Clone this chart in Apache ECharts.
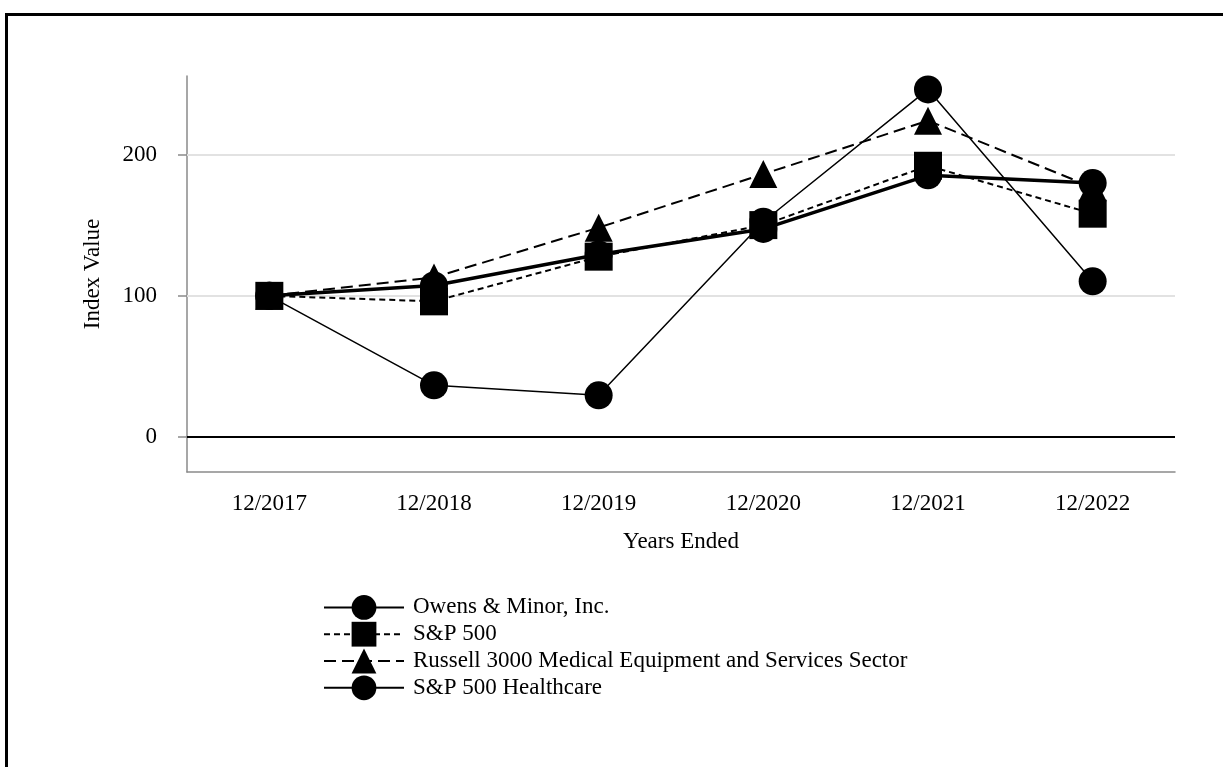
<!DOCTYPE html>
<html>
<head>
<meta charset="utf-8">
<script src="https://cdn.jsdelivr.net/npm/echarts@6/dist/echarts.min.js"></script>
<style>
  html, body { margin: 0; padding: 0; background: #fff; }
  #chart { width: 1223px; height: 767px; }
  #frame { position: absolute; left: 5px; top: 13px; width: 1300px; height: 800px;
           border-top: 3px solid #000; border-left: 3px solid #000; pointer-events: none; }
</style>
</head>
<body>
<div id="chart"></div>
<div id="frame"></div>
<script>
const categories = ['12/2017', '12/2018', '12/2019', '12/2020', '12/2021', '12/2022'];
const owensMinor = [100, 36.5, 29.4, 152.6, 246.5, 110.3];
const sp500 = [100, 96.1, 127.8, 150.2, 192.3, 158.3];
const russell3000Med = [100, 113.1, 148.4, 186.4, 224.3, 177.0];
const sp500Healthcare = [100, 107.4, 129.4, 147.5, 185.5, 180.0];
const yTickValues = [0, 100, 200];
const gridValues = [100, 200];

const FONT = 'Liberation Serif';
const FS = 23;
const chart = echarts.init(document.getElementById('chart'));

chart.setOption({
  animation: false,
  backgroundColor: '#fff',
  textStyle: { fontFamily: FONT, color: '#000' },
  grid: { left: 187, right: 48, top: 76, bottom: 295, containLabel: false },
  legend: {
    orient: 'vertical',
    left: 318,
    top: 590,
    itemWidth: 80,
    itemHeight: 31,
    itemGap: 2,
    textStyle: { fontFamily: FONT, fontSize: FS, color: '#000', padding: [0, 0, 0, 4] },
    data: ['Owens & Minor, Inc.', 'S&P 500', 'Russell 3000 Medical Equipment and Services Sector', 'S&P 500 Healthcare']
  },
  xAxis: {
    type: 'category',
    data: categories,
    boundaryGap: true,
    name: 'Years Ended',
    nameLocation: 'middle',
    nameGap: 58,
    nameTextStyle: { fontFamily: FONT, fontSize: FS, color: '#000' },
    axisLine: { onZero: false, lineStyle: { color: '#8a8a8a', width: 1.5 } },
    axisTick: { alignWithLabel: true, length: 10, lineStyle: { color: '#8a8a8a', width: 1.5 } },
    axisLabel: { fontFamily: FONT, fontSize: FS, color: '#000', margin: 20 },
    splitLine: { show: false }
  },
  yAxis: {
    type: 'value',
    min: -25,
    max: 256,
    name: 'Index Value',
    nameLocation: 'middle',
    nameGap: 83,
    nameTextStyle: { fontFamily: FONT, fontSize: FS, color: '#000' },
    axisLine: { show: true, lineStyle: { color: '#8a8a8a', width: 1.5 } },
    axisTick: { show: true, length: 9, customValues: yTickValues, lineStyle: { color: '#8a8a8a', width: 1.5 } },
    axisLabel: { fontFamily: FONT, fontSize: FS, color: '#000', margin: 30, customValues: yTickValues },
    splitLine: { show: false }
  },
  series: [
    {
      name: 'Owens & Minor, Inc.',
      type: 'line',
      data: owensMinor,
      symbol: 'circle',
      symbolSize: 28,
      itemStyle: { color: '#000' },
      lineStyle: { color: '#000', width: 1.5, type: 'solid' },
      z: 3,
      markLine: {
        silent: true,
        symbol: 'none',
        z: 1,
        label: { show: false },
        data: [
          ...gridValues.map(v => ({ yAxis: v, lineStyle: { color: '#e2e2e2', width: 2, type: 'solid' } })),
          { yAxis: 0, lineStyle: { color: '#000', width: 2, type: 'solid' } }
        ]
      }
    },
    {
      name: 'S&P 500',
      type: 'line',
      data: sp500,
      symbol: 'rect',
      symbolSize: 28,
      itemStyle: { color: '#000' },
      lineStyle: { color: '#000', width: 2, type: [6, 4] },
      z: 3
    },
    {
      name: 'Russell 3000 Medical Equipment and Services Sector',
      type: 'line',
      data: russell3000Med,
      symbol: 'triangle',
      symbolSize: 28,
      itemStyle: { color: '#000' },
      lineStyle: { color: '#000', width: 2, type: [12, 6] },
      z: 3
    },
    {
      name: 'S&P 500 Healthcare',
      type: 'line',
      data: sp500Healthcare,
      symbol: 'circle',
      symbolSize: 28,
      itemStyle: { color: '#000' },
      lineStyle: { color: '#000', width: 3.5, type: 'solid' },
      z: 3
    }
  ]
});
</script>
</body>
</html>
